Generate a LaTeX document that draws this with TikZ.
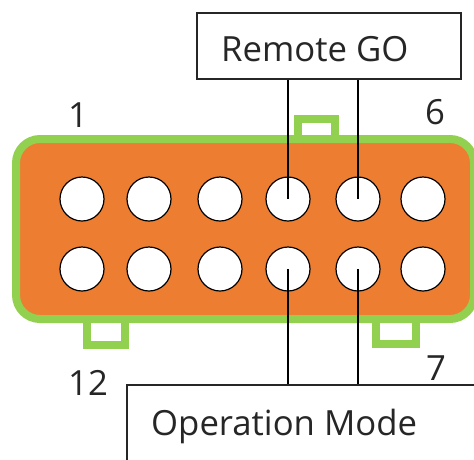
\documentclass[tikz,border=0pt]{standalone}
\usepackage{fontspec}
\setmainfont{Open Sans}
\definecolor{corange}{HTML}{ED7D31}
\definecolor{cgreen}{HTML}{92D050}
\begin{document}
\begin{tikzpicture}[x=1pt,y=-1pt,
  body/.style={draw=cgreen, line width=8pt, fill=corange, rounded corners=24pt},
  tab/.style={draw=cgreen, line width=8pt, fill=white},
  pin/.style={circle, draw=black, line width=1.2pt, fill=white, minimum size=44pt, inner sep=0pt},
  wire/.style={line width=1.2pt, draw=black},
  lbl/.style={font=\fontsize{34.7}{40}\selectfont, inner sep=0pt, text=black!85},
  box/.style={draw=black!85, line width=1.5pt, fill=white, inner sep=0pt}]
\useasboundingbox (0,0) rectangle (474,459);
\clip (0,0) rectangle (474,459);
% tabs
\draw[tab] (298,119) rectangle (335,143);
\draw[tab] (87,315) rectangle (125,345);
\draw[tab] (376,315) rectangle (416,344);
% body
\draw[body] (16,139) rectangle (474,319);
% pins
\foreach \i/\x in {1/82,2/149,3/220,4/288,5/358,6/423}{
  \node[pin] (a\i) at (\x,199) {};
  \node[pin] (b\i) at (\x,269) {};
}
% boxes
\node[box, anchor=north west, minimum width=264pt, minimum height=66pt] (rgbox) at (196,12) {};
\node[box, anchor=north west, minimum width=400pt, minimum height=100pt] (ombox) at (126,384) {};
\node[lbl, anchor=base west] (rgtext) at (221,61) {Remote GO};
\node[lbl, anchor=base west] (omtext) at (151,435) {Operation Mode};
% wires
\draw[wire] (rgbox.south -| a4) -- (a4.center);
\draw[wire] (rgbox.south -| a5) -- (a5.center);
\draw[wire] (b4.center) -- (ombox.north -| b4);
\draw[wire] (b5.center) -- (ombox.north -| b5);
% pin numbers
\node[lbl, anchor=base] (n1) at (78,127) {1};
\node[lbl, anchor=base] (n6) at (435,124) {6};
\node[lbl, anchor=base] (n12) at (88,395) {12};
\node[lbl, anchor=base] (n7) at (436,380) {7};
\end{tikzpicture}
\end{document}
